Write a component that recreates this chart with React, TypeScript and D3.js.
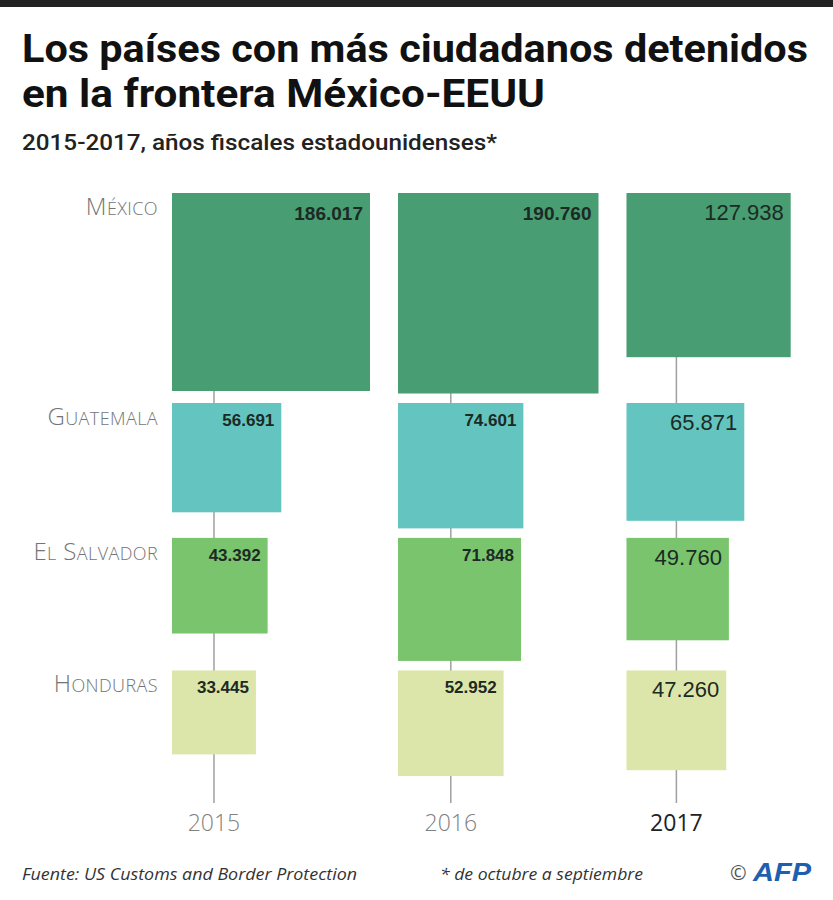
import React from "react";
import * as d3 from "d3";

const years = ["2015", "2016", "2017"];
const countries = ["México", "Guatemala", "El Salvador", "Honduras"];
const values2015 = [186017, 56691, 43392, 33445];
const values2016 = [190760, 74601, 71848, 52952];
const values2017 = [127938, 65871, 49760, 47260];
const valueLabels2015 = ["186.017", "56.691", "43.392", "33.445"];
const valueLabels2016 = ["190.760", "74.601", "71.848", "52.952"];
const valueLabels2017 = ["127.938", "65.871", "49.760", "47.260"];
const colors = ["#489d72", "#63c4c0", "#79c46d", "#dde6aa"];

const series = [values2015, values2016, values2017];
const seriesLabels = [valueLabels2015, valueLabels2016, valueLabels2017];

export default function App() {
  const W = 833, H = 900;
  const maxV = d3.max(series.flat()) as number;
  const size = d3.scaleSqrt().domain([0, maxV]).range([0, 200.5]);

  const colX: number[] = [];
  let x = 172;
  series.forEach((vals) => {
    colX.push(x);
    x += size(d3.max(vals) as number) + 28;
  });
  const rowY: number[] = [];
  let y = 193;
  countries.forEach((_, i) => {
    rowY.push(y);
    y += size(d3.max(series.map((s) => s[i])) as number) + 9.5;
  });

  const labelFont = "'Open Sans', 'DejaVu Sans', sans-serif";
  const titleFont = "Roboto, 'Open Sans', sans-serif";
  const numFont = "'Liberation Sans', Arial, sans-serif";

  return (
    <svg width={W} height={H} style={{ position: "absolute", left: 0, top: 0, background: "#fff" }}
      fontFamily={labelFont}>
      <rect x={0} y={0} width={W} height={7} fill="#222" />
      <text x={22} y={62} fontSize={39} fontWeight={700} fill="#111" fontFamily={titleFont}
        textLength={786} lengthAdjust="spacingAndGlyphs">Los países con más ciudadanos detenidos</text>
      <text x={22} y={107} fontSize={39} fontWeight={700} fill="#111" fontFamily={titleFont}
        textLength={523} lengthAdjust="spacingAndGlyphs">en la frontera México-EEUU</text>
      <text x={22} y={150} fontSize={22} fontWeight={500} fill="#222" fontFamily={titleFont}
        textLength={475} lengthAdjust="spacingAndGlyphs">2015-2017, años fiscales estadounidenses*</text>

      {series.map((vals, j) => {
        const lx = colX[j] + size(d3.min(vals) as number) / 2;
        return <line key={"l" + j} x1={lx} x2={lx} y1={193} y2={803} stroke="#a0a0a0" strokeWidth={1.5} />;
      })}

      {series.map((vals, j) =>
        vals.map((v, i) => {
          const s = size(v);
          const is2017 = j === 2;
          const fs = is2017 ? 22 : i === 0 ? 19 : 17;
          const by = rowY[i] + (is2017 || i === 0 ? 27 : 23);
          return (
            <g key={`s${j}-${i}`}>
              <rect x={colX[j]} y={rowY[i]} width={s} height={s} fill={colors[i]} />
              <text x={colX[j] + s - 7} y={by} textAnchor="end" fontSize={fs}
                fontWeight={is2017 ? 400 : 700} fill="#1c2a24" fontFamily={numFont}>
                {seriesLabels[j][i]}
              </text>
            </g>
          );
        })
      )}

      {countries.map((c, i) => {
        const words = c.split(" ");
        return (
          <text key={"c" + i} x={158} y={rowY[i] + 22} textAnchor="end" fill="#747474"
            fontFamily={labelFont} fontWeight={300} letterSpacing={0.4}>
            {words.map((w, k) => (
              <React.Fragment key={k}>
                <tspan fontSize={24}>{(k > 0 ? " " : "") + w[0]}</tspan>
                <tspan fontSize={18}>{w.slice(1).toUpperCase()}</tspan>
              </React.Fragment>
            ))}
          </text>
        );
      })}

      {series.map((vals, j) => {
        const lx = colX[j] + size(d3.min(vals) as number) / 2;
        return (
          <text key={"y" + j} x={lx} y={831} textAnchor="middle" fontSize={23}
            fill={j === 2 ? "#222" : "#808080"} fontWeight={j === 2 ? 400 : 300} fontFamily={labelFont}>
            {years[j]}
          </text>
        );
      })}

      <text x={22} y={880} fontSize={16} fontStyle="italic" fill="#333" fontFamily={labelFont}
        textLength={335} lengthAdjust="spacingAndGlyphs">Fuente: US Customs and Border Protection</text>
      <text x={440} y={880} fontSize={16} fontStyle="italic" fill="#333" fontFamily={labelFont}
        textLength={203} lengthAdjust="spacingAndGlyphs">* de octubre a septiembre</text>
      <text x={730} y={880} fontSize={20} fill="#555" fontFamily={labelFont}>©</text>
      <text x={753} y={881} fontSize={26} fontWeight={900} fontStyle="italic" fill="#1f5fb0"
        fontFamily="'Liberation Sans', Arial, sans-serif" textLength={58} lengthAdjust="spacingAndGlyphs">AFP</text>
    </svg>
  );
}
